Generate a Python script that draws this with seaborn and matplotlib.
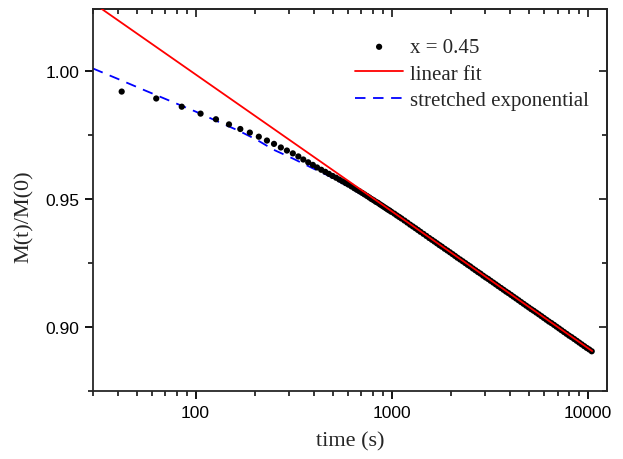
import numpy as np
import pandas as pd
import matplotlib
matplotlib.use("Agg")
import matplotlib.pyplot as plt
import seaborn as sns
from matplotlib.ticker import LogLocator, MultipleLocator, FixedFormatter, FixedLocator

# measured data, x = 0.45
time_s = [42, 63, 85, 106, 127, 148, 169, 189, 210, 231, 251, 272, 292, 313, 334,
          354, 375, 396, 416, 437, 458, 478, 499, 520, 540, 561, 582, 602, 623, 644,
          664, 685, 706, 726, 747, 768, 788, 809, 830, 850, 871, 892, 912, 933, 954,
          974, 995, 1030, 1060, 1090, 1120, 1160, 1200, 1240, 1280, 1320, 1360, 1400,
          1450, 1500, 1550, 1600, 1650, 1700, 1750, 1800, 1860, 1920, 1980, 2040, 2100,
          2160, 2230, 2300, 2370, 2440, 2510, 2590, 2670, 2750, 2830, 2920, 3010, 3100,
          3190, 3290, 3390, 3490, 3600, 3710, 3820, 3930, 4050, 4170, 4300, 4430, 4560,
          4700, 4840, 4990, 5140, 5290, 5450, 5620, 5790, 5960, 6140, 6320, 6510, 6710,
          6910, 7120, 7330, 7550, 7780, 8010, 8250, 8500, 8760, 9020, 9290, 9570, 9860,
          10150, 10450]
m_ratio = [0.9918, 0.9891, 0.9859, 0.9832, 0.9810, 0.9790, 0.9772, 0.9758, 0.9742,
           0.9727, 0.9714, 0.9700, 0.9688, 0.9677, 0.9665, 0.9653, 0.9642, 0.9632,
           0.9622, 0.9613, 0.9605, 0.9597, 0.9589, 0.9582, 0.9575, 0.9568, 0.9561,
           0.9555, 0.9548, 0.9541, 0.9535, 0.9529, 0.9523, 0.9517, 0.9511, 0.9505,
           0.9499, 0.9494, 0.9488, 0.9484, 0.9478, 0.9473, 0.9468, 0.9463, 0.9458,
           0.9454, 0.9449, 0.9442, 0.9435, 0.9429, 0.9423, 0.9415, 0.9407, 0.9399,
           0.9392, 0.9385, 0.9378, 0.9371, 0.9363, 0.9355, 0.9347, 0.9340, 0.9333,
           0.9326, 0.9319, 0.9313, 0.9305, 0.9298, 0.9291, 0.9284, 0.9277, 0.9270,
           0.9263, 0.9256, 0.9249, 0.9242, 0.9236, 0.9228, 0.9221, 0.9214, 0.9208,
           0.9200, 0.9193, 0.9187, 0.9180, 0.9173, 0.9166, 0.9159, 0.9152, 0.9145,
           0.9138, 0.9132, 0.9125, 0.9118, 0.9111, 0.9104, 0.9097, 0.9090, 0.9083,
           0.9076, 0.9069, 0.9063, 0.9056, 0.9049, 0.9042, 0.9035, 0.9028, 0.9021,
           0.9015, 0.9008, 0.9001, 0.8994, 0.8987, 0.8980, 0.8973, 0.8966, 0.8960,
           0.8953, 0.8946, 0.8939, 0.8932, 0.8925, 0.8918, 0.8912, 0.8905]

# linear fit (straight on log axis), end points
fit_t = [30, 10500]
fit_m = [1.0264, 0.8906]

# stretched exponential curve
se_t = [30, 40, 55, 75, 100, 130, 165, 205, 250, 315, 390, 475, 590, 745, 1000,
        1400, 2000, 3000, 4500, 7000, 10500]
se_m = [1.0008, 0.9968, 0.9923, 0.9880, 0.9840, 0.9801, 0.9766, 0.9730, 0.9691,
        0.9656, 0.9621, 0.9590, 0.9551, 0.9504, 0.9443, 0.9368, 0.9287, 0.9194,
        0.9100, 0.8998, 0.8905]

sns.set_style("ticks")
plt.rcParams["font.family"] = ["Liberation Serif", "DejaVu Serif"]
plt.rcParams["axes.linewidth"] = 1.3

df = pd.DataFrame({"t": time_s, "m": m_ratio})
fit = pd.DataFrame({"t": fit_t, "m": fit_m})
se = pd.DataFrame({"t": se_t, "m": se_m})

fig = plt.figure(figsize=(6.23, 4.6), dpi=100)
ax = fig.add_axes([0.1493, 0.1478, 0.825, 0.8304])
ax.set_xscale("log")

sns.scatterplot(data=df, x="t", y="m", color="black", s=20, edgecolor="none",
                ax=ax, label="x = 0.45", zorder=3)
sns.lineplot(data=fit, x="t", y="m", color="#ff0000", linewidth=1.3, ax=ax,
             label="linear fit", zorder=4)
sns.lineplot(data=se, x="t", y="m", color="#0000ff", linewidth=1.3, ax=ax,
             label="stretched exponential", zorder=2)
ax.lines[-1].set_dashes([5.8, 4.2])

ax.set_xlim(30, 12500)
ax.set_ylim(0.875, 1.024)

ax.yaxis.set_major_locator(FixedLocator([0.90, 0.95, 1.00]))
ax.yaxis.set_major_formatter(FixedFormatter(["0.90", "0.95", "1.00"]))
ax.yaxis.set_minor_locator(MultipleLocator(0.025))
ax.xaxis.set_major_locator(FixedLocator([10, 100, 1000, 10000, 100000]))
ax.xaxis.set_major_formatter(FixedFormatter(["10", "100", "1000", "10000", "100000"]))
ax.xaxis.set_minor_locator(LogLocator(base=10, subs=np.arange(2, 10)))

ax.tick_params(which="major", direction="out", length=6, width=1.3,
               labelsize=12.5, pad=4, colors="black")
ax.tick_params(which="minor", direction="out", length=3.5, width=1.3)
for lab in ax.get_xticklabels() + ax.get_yticklabels():
    lab.set_family(["Liberation Sans", "DejaVu Sans"])

# mirrored inward ticks on top and right
top = ax.secondary_xaxis("top")
top.xaxis.set_major_locator(FixedLocator([10, 100, 1000, 10000, 100000]))
top.xaxis.set_minor_locator(LogLocator(base=10, subs=np.arange(2, 10)))
top.tick_params(which="major", direction="in", length=6, width=1.3, labeltop=False)
top.tick_params(which="minor", direction="in", length=3.5, width=1.3)
right = ax.secondary_yaxis("right")
right.yaxis.set_major_locator(FixedLocator([0.90, 0.95, 1.00]))
right.yaxis.set_minor_locator(MultipleLocator(0.025))
right.tick_params(which="major", direction="in", length=6, width=1.3, labelright=False)
right.tick_params(which="minor", direction="in", length=3.5, width=1.3)

ax.set_xlabel("time (s)", fontsize=16, labelpad=8)
ax.set_ylabel("M(t)/M(0)", fontsize=16, labelpad=6)
ax.yaxis.set_label_coords(-0.115, 0.46)

leg = ax.legend(loc="upper left", bbox_to_anchor=(0.51, 0.925), frameon=False,
                fontsize=15, handlelength=2.3, handletextpad=0.35,
                labelspacing=0.33, borderaxespad=0, borderpad=0, markerscale=1.0)

fig.savefig("out.png", dpi=100)
